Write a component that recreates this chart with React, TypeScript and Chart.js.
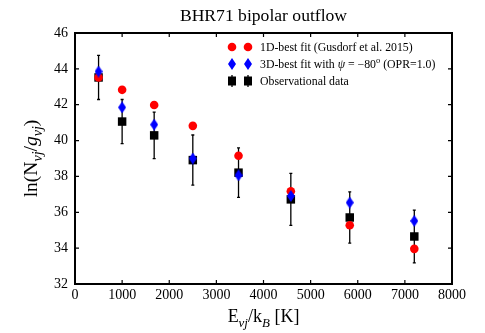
import React, { useEffect, useRef } from 'react';
import { Chart, registerables } from 'chart.js';

Chart.register(...registerables);

// ---- data ----
const energies = [500, 1000, 1680, 2500, 3470, 4580, 5830, 7200];
const obsValues = [43.52, 41.06, 40.29, 38.91, 38.21, 36.72, 35.71, 34.65];
const obsErrors = [1.23, 1.23, 1.3, 1.4, 1.38, 1.45, 1.43, 1.47];
const fit1DValues = [43.52, 42.83, 41.98, 40.82, 39.15, 37.17, 35.28, 33.96];
const fit3DValues = [43.85, 41.85, 40.89, 39.0, 38.06, 36.91, 36.54, 35.52];
const xTickValues = [0, 1000, 2000, 3000, 4000, 5000, 6000, 7000, 8000];
const yTickValues = [32, 34, 36, 38, 40, 42, 44, 46];
const titleText = 'BHR71 bipolar outflow';

const SERIF = '"Liberation Serif", "Times New Roman", serif';

type Part = { t: string; it?: boolean; sub?: boolean; sup?: boolean };

const yLabelParts: Part[] = [
  { t: 'ln(N' },
  { t: 'vj', it: true, sub: true },
  { t: '/' },
  { t: 'g', it: true },
  { t: 'vj', it: true, sub: true },
  { t: ')' },
];
const xLabelParts: Part[] = [
  { t: 'E' },
  { t: 'vj', it: true, sub: true },
  { t: '/k' },
  { t: 'B', it: true, sub: true },
  { t: ' [K]' },
];
const legend1D: Part[] = [{ t: '1D-best fit (Gusdorf et al. 2015)' }];
const legend3D: Part[] = [
  { t: '3D-best fit with ' },
  { t: 'ψ', it: true },
  { t: ' = −80' },
  { t: 'o', sup: true },
  { t: ' (OPR=1.0)' },
];
const legendObs: Part[] = [{ t: 'Observational data' }];

function partFont(p: Part, size: number) {
  const s = p.sub || p.sup ? size * 0.72 : size;
  return `${p.it ? 'italic ' : ''}${s}px ${SERIF}`;
}
function measureParts(ctx: CanvasRenderingContext2D, parts: Part[], size: number) {
  let w = 0;
  for (const p of parts) {
    ctx.font = partFont(p, size);
    w += ctx.measureText(p.t).width;
  }
  return w;
}
function drawParts(ctx: CanvasRenderingContext2D, parts: Part[], x: number, y: number, size: number) {
  let cx = x;
  for (const p of parts) {
    ctx.font = partFont(p, size);
    const dy = p.sub ? size * 0.25 : p.sup ? -size * 0.4 : 0;
    ctx.fillText(p.t, cx, y + dy);
    cx += ctx.measureText(p.t).width;
  }
}

function makeDiamond(): HTMLCanvasElement {
  const c = document.createElement('canvas');
  c.width = 8;
  c.height = 12;
  const g = c.getContext('2d')!;
  g.fillStyle = '#0000ff';
  g.beginPath();
  g.moveTo(4, 0);
  g.lineTo(8, 6);
  g.lineTo(4, 12);
  g.lineTo(0, 6);
  g.closePath();
  g.fill();
  return c;
}

export default function App() {
  const ref = useRef<HTMLCanvasElement>(null);

  useEffect(() => {
    const canvas = ref.current!;
    const diamond = makeDiamond();

    const errorBarPlugin = {
      id: 'errorBars',
      beforeDatasetsDraw(chart: any) {
        const ctx = chart.ctx as CanvasRenderingContext2D;
        const xs = chart.scales.x;
        const ys = chart.scales.y;
        ctx.save();
        ctx.strokeStyle = '#000';
        ctx.lineWidth = 1.3;
        energies.forEach((e, i) => {
          const px = xs.getPixelForValue(e);
          const top = ys.getPixelForValue(obsValues[i] + obsErrors[i]);
          const bot = ys.getPixelForValue(obsValues[i] - obsErrors[i]);
          ctx.beginPath();
          ctx.moveTo(px, top);
          ctx.lineTo(px, bot);
          ctx.moveTo(px - 1.5, top);
          ctx.lineTo(px + 1.5, top);
          ctx.moveTo(px - 1.5, bot);
          ctx.lineTo(px + 1.5, bot);
          ctx.stroke();
        });
        ctx.restore();
      },
    };

    const decorPlugin = {
      id: 'decor',
      afterDraw(chart: any) {
        const ctx = chart.ctx as CanvasRenderingContext2D;
        const a = chart.chartArea;
        const xs = chart.scales.x;
        const ys = chart.scales.y;
        ctx.save();
        // frame
        ctx.strokeStyle = '#000';
        ctx.lineWidth = 2;
        ctx.strokeRect(a.left, a.top, a.right - a.left, a.bottom - a.top);
        // inward ticks
        ctx.lineWidth = 1.2;
        ctx.beginPath();
        xTickValues.forEach((v) => {
          const px = xs.getPixelForValue(v);
          ctx.moveTo(px, a.bottom);
          ctx.lineTo(px, a.bottom - 4);
          ctx.moveTo(px, a.top);
          ctx.lineTo(px, a.top + 4);
        });
        yTickValues.forEach((v) => {
          const py = ys.getPixelForValue(v);
          ctx.moveTo(a.left, py);
          ctx.lineTo(a.left + 4, py);
          ctx.moveTo(a.right, py);
          ctx.lineTo(a.right - 4, py);
        });
        ctx.stroke();

        ctx.fillStyle = '#000';
        ctx.textBaseline = 'alphabetic';
        // title
        ctx.font = `17.6px ${SERIF}`;
        ctx.textAlign = 'center';
        ctx.fillText(titleText, (a.left + a.right) / 2, 21);
        ctx.textAlign = 'left';

        // x label
        const xw = measureParts(ctx, xLabelParts, 18);
        drawParts(ctx, xLabelParts, (a.left + a.right) / 2 - xw / 2, 322, 18);

        // y label (rotated)
        ctx.save();
        ctx.translate(37, (a.top + a.bottom) / 2);
        ctx.rotate(-Math.PI / 2);
        const yw = measureParts(ctx, yLabelParts, 19.5);
        drawParts(ctx, yLabelParts, -yw / 2, 0, 19.5);
        ctx.restore();

        // legend
        const rows: { parts: Part[]; kind: string }[] = [
          { parts: legend1D, kind: 'circle' },
          { parts: legend3D, kind: 'diamond' },
          { parts: legendObs, kind: 'square' },
        ];
        const rowY = [47, 64, 81];
        const mx = [232, 248];
        rows.forEach((r, i) => {
          const y = rowY[i];
          mx.forEach((x) => {
            if (r.kind === 'circle') {
              ctx.fillStyle = '#ff0000';
              ctx.beginPath();
              ctx.arc(x, y, 4.3, 0, Math.PI * 2);
              ctx.fill();
            } else if (r.kind === 'diamond') {
              ctx.drawImage(diamond, x - 4, y - 6);
            } else {
              ctx.strokeStyle = '#000';
              ctx.lineWidth = 1.3;
              ctx.beginPath();
              ctx.moveTo(x, y - 6);
              ctx.lineTo(x, y + 6);
              ctx.stroke();
              ctx.fillStyle = '#000';
              ctx.fillRect(x - 4, y - 4.5, 8, 9);
            }
          });
          ctx.fillStyle = '#000';
          drawParts(ctx, r.parts, 260, y + 4, 11.8);
        });
        ctx.restore();
      },
    };

    const chart = new Chart(canvas, {
      type: 'scatter',
      data: {
        datasets: [
          {
            label: '3D-best fit',
            data: energies.map((x, i) => ({ x, y: fit3DValues[i] })),
            pointStyle: diamond as any,
            pointRadius: 6,
            backgroundColor: '#0000ff',
            borderWidth: 0,
          },
          {
            label: '1D-best fit',
            data: energies.map((x, i) => ({ x, y: fit1DValues[i] })),
            pointStyle: 'circle',
            pointRadius: 4.3,
            backgroundColor: '#ff0000',
            borderColor: '#ff0000',
            borderWidth: 0,
          },
          {
            label: 'Observational data',
            data: energies.map((x, i) => ({ x, y: obsValues[i] })),
            pointStyle: 'rect',
            pointRadius: 6,
            backgroundColor: '#000000',
            borderWidth: 0,
          },
        ],
      },
      options: {
        responsive: false,
        animation: false,
        devicePixelRatio: 1,
        events: [],
        layout: { padding: { top: 33, right: 33, left: 0, bottom: 0 } },
        plugins: {
          legend: { display: false },
          tooltip: { enabled: false },
          title: { display: false },
        },
        scales: {
          x: {
            type: 'linear',
            min: 0,
            max: 8000,
            afterBuildTicks: (s: any) => {
              s.ticks = xTickValues.map((v) => ({ value: v }));
            },
            ticks: {
              color: '#000',
              font: { family: SERIF, size: 14 },
              padding: 3,
              maxRotation: 0,
              autoSkip: false,
              callback: (v: any) => String(v),
            },
            grid: { display: false, drawTicks: false },
            border: { display: false },
            afterFit: (s: any) => {
              s.height = 49;
            },
          },
          y: {
            type: 'linear',
            min: 32,
            max: 46,
            afterBuildTicks: (s: any) => {
              s.ticks = yTickValues.map((v) => ({ value: v }));
            },
            ticks: {
              color: '#000',
              font: { family: SERIF, size: 14 },
              padding: 7,
              autoSkip: false,
              callback: (v: any) => String(v),
            },
            grid: { display: false, drawTicks: false },
            border: { display: false },
            afterFit: (s: any) => {
              s.width = 75;
            },
          },
        },
      } as any,
      plugins: [errorBarPlugin, decorPlugin],
    });
    return () => chart.destroy();
  }, []);

  return (
    <canvas
      ref={ref}
      width={485}
      height={333}
      style={{ position: 'fixed', left: 0, top: 0, width: 485, height: 333, background: '#fff' }}
    />
  );
}
